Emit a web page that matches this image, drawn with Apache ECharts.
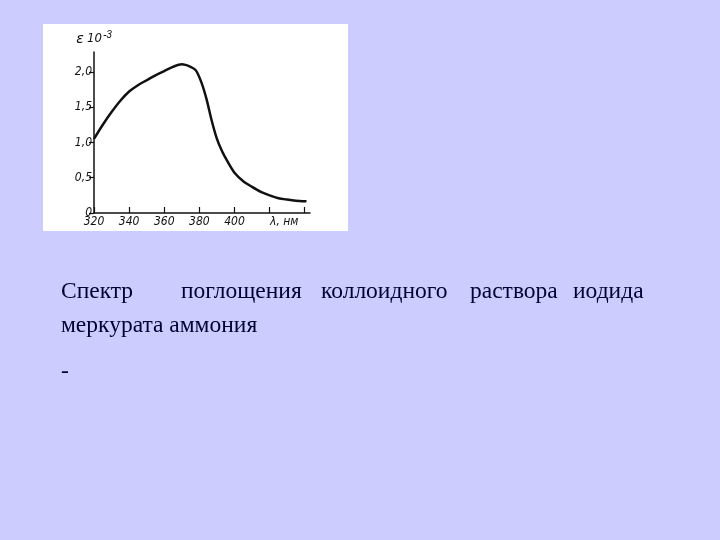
<!DOCTYPE html>
<html>
<head>
<meta charset="utf-8">
<script src="https://cdn.jsdelivr.net/npm/echarts@6/dist/echarts.min.js"></script>
<style>
  html, body { margin: 0; padding: 0; background: #ccccff; }
  #main { width: 720px; height: 540px; }
</style>
</head>
<body>
<div id="main"></div>
<script>
// длина волны, нм
var wavelength = [320, 325, 330, 335, 340, 345, 350, 355, 360, 365, 370, 375, 378, 381, 384, 387, 390, 393, 396, 400, 405, 410, 415, 420, 425, 430, 435, 441];
// ε·10^-3
var epsilon = [1.05, 1.25, 1.43, 1.59, 1.72, 1.81, 1.88, 1.95, 2.01, 2.07, 2.105, 2.07, 2.02, 1.86, 1.62, 1.31, 1.05, 0.87, 0.73, 0.57, 0.45, 0.37, 0.30, 0.25, 0.21, 0.19, 0.175, 0.165];
var xTicks = [320, 340, 360, 380, 400];
var yTickLabels = {0: '0', 0.5: '0,5', 1: '1,0', 1.5: '1,5', 2: '2,0'};

var captionWords = [
    {text: 'Спектр', x: 61, y: 280},
    {text: 'поглощения', x: 181, y: 280},
    {text: 'коллоидного', x: 321, y: 280},
    {text: 'раствора', x: 470, y: 280},
    {text: 'иодида', x: 573, y: 280},
    {text: 'меркурата аммония', x: 61, y: 314},
    {text: '-', x: 61, y: 360}
];

var points = [];
for (var i = 0; i < wavelength.length; i++) {
    points.push([wavelength[i], epsilon[i]]);
}

var main = echarts.init(document.getElementById('main'));
var labelFont = {
    color: '#111',
    fontSize: 12,
    fontStyle: 'italic',
    fontFamily: 'DejaVu Sans Condensed, DejaVu Sans, sans-serif'
};

var graphics = [
    {
        type: 'rect',
        z: -10,
        shape: {x: 43, y: 24, width: 305, height: 207},
        style: {fill: '#ffffff'}
    }
];
captionWords.forEach(function (w) {
    graphics.push({
        type: 'text',
        x: w.x,
        y: w.y,
        style: {
            text: w.text,
            fill: '#000033',
            font: '23.5px "Liberation Serif", "Times New Roman", serif'
        }
    });
});

var option = {
    backgroundColor: '#ccccff',
    animation: false,
    grid: {
        left: 94,
        right: 410,
        top: 52,
        bottom: 327
    },
    xAxis: {
        type: 'value',
        min: 320,
        max: 443,
        interval: 20,
        splitLine: {show: false},
        axisLine: {lineStyle: {color: '#111', width: 1.5}},
        axisTick: {inside: true, length: 6, lineStyle: {color: '#111', width: 1.2}},
        axisLabel: Object.assign({
            margin: 3,
            showMaxLabel: false,
            formatter: function (v) {
                return xTicks.indexOf(v) >= 0 ? String(v) : '';
            }
        }, labelFont),
        name: 'λ, нм',
        nameLocation: 'end',
        nameGap: -40,
        nameTextStyle: Object.assign({verticalAlign: 'top', padding: [3, 0, 0, 0]}, labelFont)
    },
    yAxis: {
        type: 'value',
        min: 0,
        max: 2.28,
        interval: 0.5,
        splitLine: {show: false},
        axisLine: {lineStyle: {color: '#111', width: 1.5}},
        axisTick: {length: 5, lineStyle: {color: '#111', width: 1.2}},
        axisLabel: Object.assign({
            margin: 2,
            showMaxLabel: false,
            formatter: function (v) {
                return yTickLabels[v] !== undefined ? yTickLabels[v] : '';
            }
        }, labelFont),
        name: '{e|ε} {n|10}{s|-3}',
        nameLocation: 'end',
        nameGap: 4,
        nameTextStyle: {
            align: 'center',
            rich: {
                e: {fontSize: 14, fontStyle: 'italic', color: '#111', fontFamily: 'DejaVu Sans'},
                n: {fontSize: 13, fontStyle: 'italic', color: '#111', fontFamily: 'DejaVu Sans Condensed'},
                s: {fontSize: 10, fontStyle: 'italic', color: '#111', verticalAlign: 'top', padding: [0, 0, 8, 1]}
            }
        }
    },
    series: [
        {
            type: 'line',
            data: points,
            smooth: 0.3,
            showSymbol: false,
            lineStyle: {color: '#111', width: 2.5}
        }
    ],
    graphic: graphics
};
main.setOption(option);
</script>
</body>
</html>
